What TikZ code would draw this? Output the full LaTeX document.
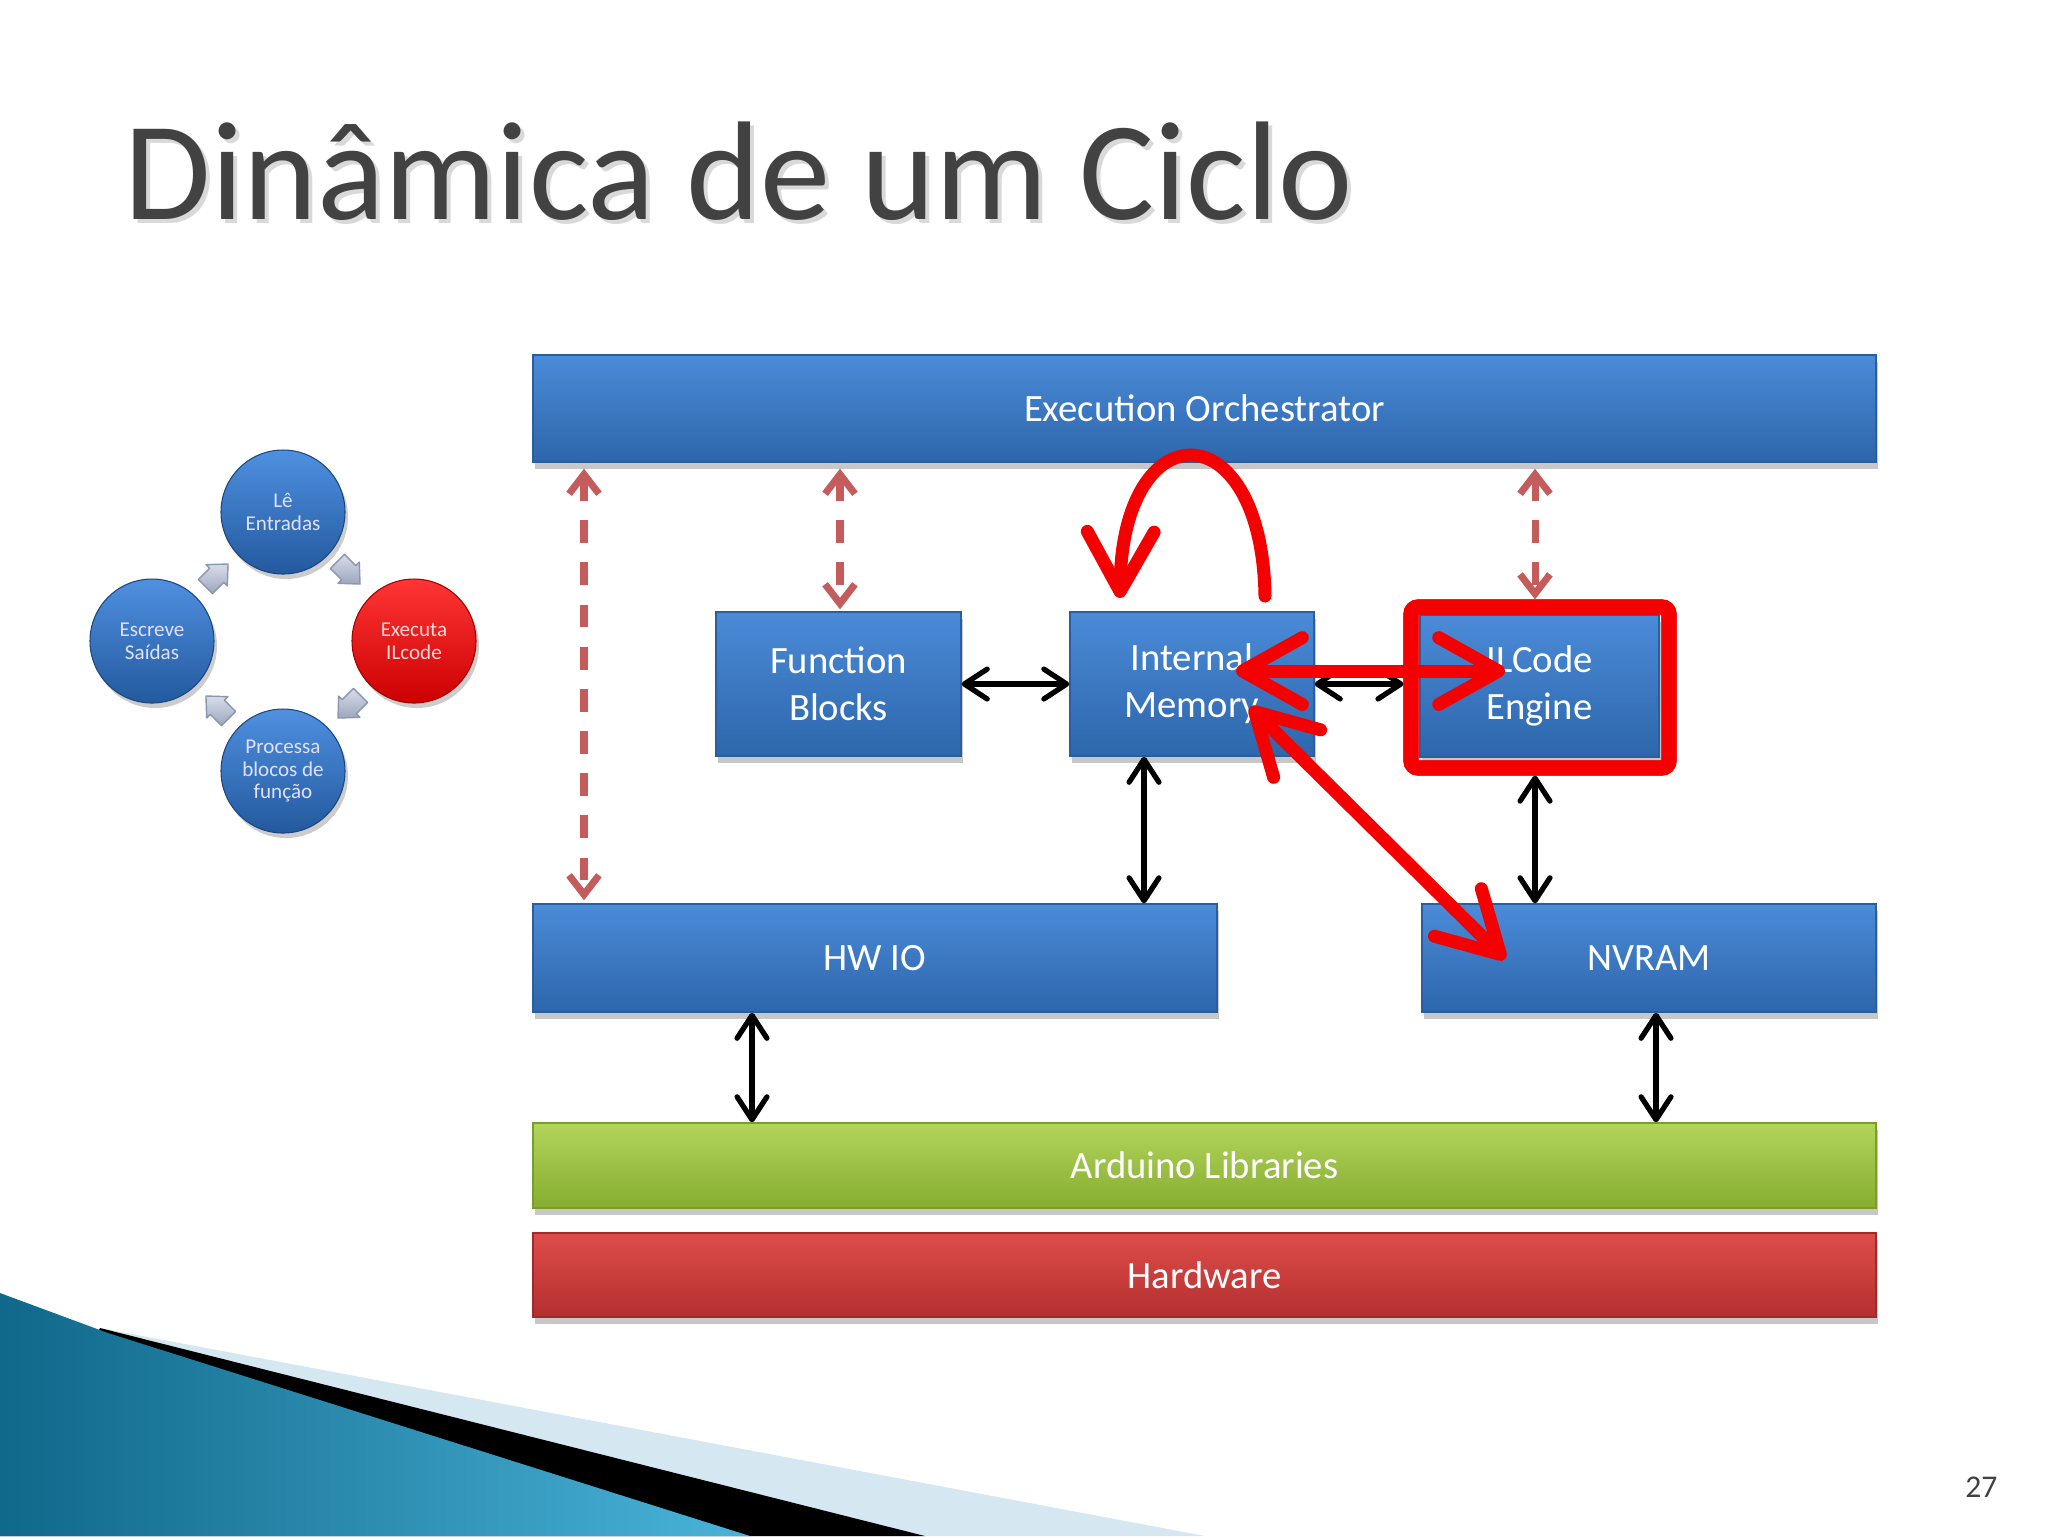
\documentclass[tikz,border=0pt]{standalone}
\usepackage{fontspec}
\setmainfont{Carlito}
\usetikzlibrary{arrows.meta,shadows,calc}
\definecolor{boxtop}{HTML}{4B8BD8}
\definecolor{boxbot}{HTML}{2D66AB}
\definecolor{boxedge}{HTML}{2A5E9C}
\definecolor{grtop}{HTML}{B2D55C}
\definecolor{grbot}{HTML}{86AC30}
\definecolor{gredge}{HTML}{7A9E2A}
\definecolor{rdtop}{HTML}{DE4C49}
\definecolor{rdbot}{HTML}{B3302F}
\definecolor{rdedge}{HTML}{A02A2A}
\definecolor{cbtop}{HTML}{4F90E0}
\definecolor{cbbot}{HTML}{23599E}
\definecolor{crtop}{HTML}{FF3535}
\definecolor{crbot}{HTML}{CC0000}
\definecolor{dashred}{HTML}{C45C5C}
\definecolor{annred}{HTML}{F50000}
\definecolor{titlegray}{HTML}{424242}
\definecolor{tealdark}{HTML}{10688A}
\definecolor{teallight}{HTML}{4AB3D9}
\definecolor{paleblue}{HTML}{D5E7F1}
\definecolor{chevtop}{HTML}{D8DDE9}
\definecolor{chevbot}{HTML}{9CA6BD}
\definecolor{chevedge}{HTML}{8C96AE}
\tikzset{
  layer/.style={rectangle, inner sep=0pt, draw=boxedge, line width=0.4pt,
    top color=boxtop, bottom color=boxbot, text=white, align=center,
    font=\fontsize{11}{13.4}\selectfont,
    drop shadow={shadow xshift=0.2mm, shadow yshift=-0.7mm, fill=black, opacity=0.22}},
  greenlayer/.style={layer, draw=gredge, top color=grtop, bottom color=grbot},
  redlayer/.style={layer, draw=rdedge, top color=rdtop, bottom color=rdbot},
  ball/.style={circle, inner sep=0pt, minimum size=12.4mm, top color=cbtop, bottom color=cbbot,
    draw=cbbot!80!black, line width=0.3pt, text=white!88!blue, align=center,
    font=\fontsize{6}{6.5}\selectfont,
    drop shadow={shadow xshift=0.3mm, shadow yshift=-0.5mm, fill=black, opacity=0.2}},
  redball/.style={ball, top color=crtop, bottom color=crbot, draw=crbot!80!black, text=white!85!red},
  chev/.style={top color=chevtop, bottom color=chevbot, draw=chevedge, line width=0.4pt, line join=round},
  blk/.style={line width=1.5pt, black,
    {Straight Barb[length=6.5pt,width=8.5pt,round]}-{Straight Barb[length=6.5pt,width=8.5pt,round]}},
  dsh/.style={line width=2pt, dashred, dash pattern=on 6.5pt off 5.5pt,
    {Straight Barb[length=5.5pt,width=8.5pt]}-{Straight Barb[length=5.5pt,width=8.5pt]}},
  ann/.style={line width=3.7pt, annred, line cap=round},
  anntip/.style={arrows={Straight Barb[length=17pt,width=19pt,round]-Straight Barb[length=17pt,width=19pt,round]}},
  annend/.style={arrows={-Straight Barb[length=17pt,width=19pt,round]}},
  frame/.style={rectangle, draw=annred, line width=4.3pt, rounded corners=2pt, inner sep=0pt}
}
\begin{document}
\begin{tikzpicture}[x=0.1mm,y=-0.1mm]
\path[use as bounding box, fill=white] (0,0) rectangle (2048,1536);

% decoration bottom-left
\fill[paleblue] (100,1328) -- (1205,1536) -- (0,1536) -- cycle;
\fill[black] (100,1328) -- (925,1536) -- (0,1536) -- cycle;
\shade[left color=tealdark, right color=teallight] (0,1293) -- (108,1333) -- (750,1536) -- (0,1536) -- cycle;

% title
\node[anchor=base west, inner sep=0pt, text=gray!30, font=\fontsize{40}{48}\selectfont] (titlesh) at (128,223) {Dinâmica de um Ciclo};
\node[anchor=base west, inner sep=0pt, text=titlegray, font=\fontsize{40}{48}\selectfont] (title) at (124,219) {Dinâmica de um Ciclo};

% page number
\node[anchor=base east, inner sep=0pt, text=titlegray, font=\fontsize{9}{10}\selectfont] (pnum) at (1998,1497) {27};

% cycle circles
\node[ball] (le) at (283,512) {Lê\\Entradas};
\node[redball] (ex) at (414,641) {Executa\\ILcode};
\node[ball] (pr) at (283,771) {Processa\\blocos de\\função};
\node[ball] (es) at (152,641) {Escreve\\Saídas};
\foreach \cx/\cy/\ang in {348/572/-45, 350/706/-135, 218/708/135, 216/576/45}{
  \begin{scope}[shift={(\cx,\cy)}, rotate=\ang]
    \path[chev] (-15,-10) -- (1,-10) -- (1,-15) -- (17,0) -- (1,15) -- (1,10) -- (-15,10) -- cycle;
  \end{scope}
}

% layer boxes
\node[layer, minimum width=134.3mm, minimum height=10.7mm] (eo) at (1204.5,408.5) {Execution Orchestrator};
\node[layer, minimum width=24.5mm, minimum height=14.4mm] (fb) at (838.5,684) {Function\\Blocks};
\node[layer, minimum width=24.4mm, minimum height=14.4mm] (im) at (1192,684) {Internal\\Memory};
\node[layer, minimum width=23.9mm, minimum height=14.2mm] (il) at (1539.5,686) {ILCode\\Engine};
\node[layer, minimum width=68.4mm, minimum height=10.8mm] (hw) at (875,958) {HW IO};
\node[layer, minimum width=45.4mm, minimum height=10.8mm] (nv) at (1649,958) {NVRAM};
\node[greenlayer, minimum width=134.3mm, minimum height=8.5mm] (ard) at (1204.5,1165.5) {Arduino Libraries};
\node[redlayer, minimum width=134.3mm, minimum height=8.4mm] (hwr) at (1204.5,1275) {Hardware};

% red frame around ILCode Engine (geometry reference)
\node[frame, minimum width=25.8mm, minimum height=16.1mm] (ilf) at (1540,687.5) {};

% x positions of vertical connectors
\coordinate (xd1) at (584,0);
\coordinate (xd2) at (840,0);
\coordinate (xd3) at (1535,0);
\coordinate (xim) at (1144,0);
\coordinate (xil) at (1535,0);
\coordinate (xhw) at (752,0);
\coordinate (xnv) at (1656,0);

% dashed orchestrator links
\draw[dsh] ([yshift=-0.6mm]eo.south -| xd1) -- ([yshift=0.3mm]hw.north -| xd1);
\draw[dsh] ([yshift=-0.6mm]eo.south -| xd2) -- ([yshift=0.2mm]fb.north -| xd2);
\draw[dsh] ([yshift=-0.6mm]eo.south -| xd3) -- (ilf.north -| xd3);

% black links
\draw[blk] (fb.east) -- (im.west);
\draw[blk] (im.east) -- (im.east -| ilf.west);
\draw[blk] (im.south -| xim) -- (hw.north -| xim);
\draw[blk] (ilf.south -| xil) -- (nv.north -| xil);
\draw[blk] (hw.south -| xhw) -- (ard.north -| xhw);
\draw[blk] (nv.south -| xnv) -- (ard.north -| xnv);

% red frame on top
\node[frame, minimum width=25.8mm, minimum height=16.1mm] (ilf2) at (ilf) {};

% red annotation arrows
\coordinate (ra1) at (1236,671);
\coordinate (ra2) at (1505,671);
\coordinate (rb1) at (1250,707);
\coordinate (rb2) at (1505,959);
\coordinate (rc1) at (1265,596);
\coordinate (rc2) at (1120,598);
\draw[ann, anntip] (ra1) -- (ra2);
\draw[ann, anntip] (rb1) -- (rb2);
\draw[ann, annend] (rc1) .. controls (1262,410) and (1122,410) .. (rc2);
\end{tikzpicture}
\end{document}
